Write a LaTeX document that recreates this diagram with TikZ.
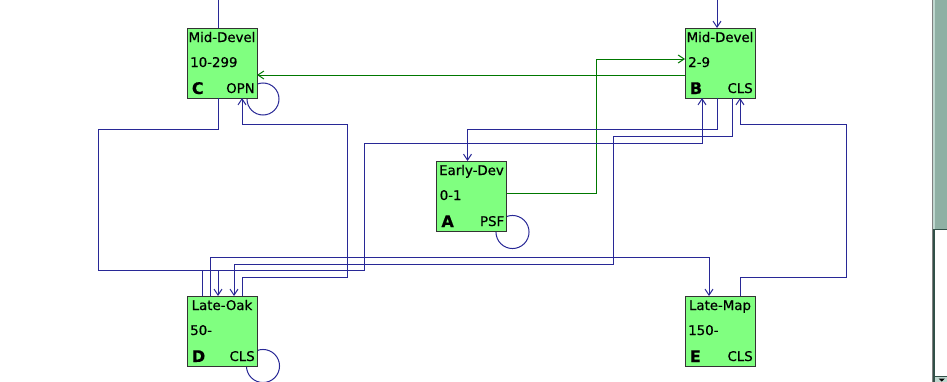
\documentclass[tikz,border=0pt]{standalone}
\usepackage{fontspec}
\setmainfont{DejaVu Sans}[FakeBold=0.6]
\newfontfamily\letterfont{DejaVu Sans}[FakeBold=0.3]
\usetikzlibrary{arrows.meta,positioning,backgrounds}

\definecolor{boxgreen}{RGB}{128,255,128}
\definecolor{linkblue}{RGB}{40,40,150}
\definecolor{flowgreen}{RGB}{0,120,0}
\definecolor{barfill}{RGB}{143,176,164}
\definecolor{barlight}{RGB}{192,216,208}
\definecolor{bardark}{RGB}{50,80,72}

\begin{document}
\begin{tikzpicture}[
    x=0.75pt, y=-0.75pt,
    stage/.style={rectangle, draw=black!80, fill=boxgreen, line width=0.75pt, minimum width=52.5pt, minimum height=52.5pt, inner sep=0pt, outer sep=0pt},
    stagetitle/.style={anchor=base, inner sep=0pt, yshift=-10.5pt, font=\fontsize{10}{12}\selectfont},
    stagerange/.style={anchor=base west, inner sep=0pt, xshift=2.25pt, yshift=-29.25pt, font=\fontsize{10}{12}\selectfont},
    stageletter/.style={anchor=base west, inner sep=0pt, xshift=3.5pt, yshift=3pt, font=\fontsize{12}{12}\selectfont\letterfont\bfseries},
    stagecode/.style={anchor=base east, inner sep=0pt, xshift=-1.5pt, yshift=3.75pt, font=\fontsize{10}{12}\selectfont},
    link/.style={draw=linkblue, line width=0.75pt},
    flow/.style={draw=flowgreen, line width=0.75pt},
    arrow/.style={-{Straight Barb[length=4.5pt,width=6pt]}}
]

\useasboundingbox (0,0) rectangle (947,382);
\begin{scope}[on background layer]
\fill[white] (0,0) rectangle (947,382);
\end{scope}

% stages
\node[stage] (C) at (222,63) {};
\node[stage, right=321pt of C] (B) {};
\node[stage] (A) at (471.5,196) {};
\node[stage, below=148.5pt of C] (D) {};
\node[stage, below=148.5pt of B] (E) {};

\node[stagetitle] (Ct) at (C.north) {Mid-Devel};
\node[stagerange] (Cr) at (C.north west) {10-299};
\node[stageletter] (Cl) at (C.south west) {C};
\node[stagecode] (Cc) at (C.south east) {OPN};

\node[stagetitle] (Bt) at (B.north) {Mid-Devel};
\node[stagerange] (Br) at (B.north west) {2-9};
\node[stageletter] (Bl) at (B.south west) {B};
\node[stagecode] (Bc) at (B.south east) {CLS};

\node[stagetitle] (At) at (A.north) {Early-Dev};
\node[stagerange] (Ar) at (A.north west) {0-1};
\node[stageletter] (Al) at (A.south west) {A};
\node[stagecode] (Ac) at (A.south east) {PSF};

\node[stagetitle] (Dt) at (D.north) {Late-Oak};
\node[stagerange] (Dr) at (D.north west) {50-};
\node[stageletter] (Dl) at (D.south west) {D};
\node[stagecode] (Dc) at (D.south east) {CLS};

\node[stagetitle] (Et) at (E.north) {Late-Map};
\node[stagerange] (Er) at (E.north west) {150-};
\node[stageletter] (El) at (E.south west) {E};
\node[stagecode] (Ec) at (E.south east) {CLS};

% lines from above
\coordinate (inC) at (218,0);
\coordinate (inB) at (717,0);
\draw[link] (inC) -- ([xshift=-3pt]C.north);
\draw[link, arrow] (inB) -- ([xshift=-2.25pt]B.north);

% green links
\draw[flow, arrow] ([yshift=-9pt]B.west) -- ([yshift=-9pt]C.east);
\draw[flow, arrow] ([yshift=2.25pt]A.east) -- ++(89.5,0) |- ([yshift=3pt]B.west);

% blue links
\draw[link, arrow] ([xshift=-3pt]C.south) -- ++(0,31) -- ++(-120,0) -- ++(0,141) -| ([xshift=-3pt]D.north);
\draw[link, arrow] ([xshift=15pt]D.north) -- ++(0,-19) -- ++(105,0) -- ++(0,-153) -| ([xshift=15pt]C.south);
\draw[link, arrow] ([xshift=-15pt]D.north) -- ++(0,-26) -- ++(162,0) -- ++(0,-127) -| ([xshift=-13.5pt]B.south);
\draw[link, arrow] ([xshift=-9pt]D.north) -- ++(0,-39) -| ([xshift=-8.25pt]E.north);
\draw[link, arrow] ([xshift=9pt]B.south) -- ++(0,38) -- ++(-119,0) -- ++(0,128) -| ([xshift=9pt]D.north);
\draw[link, arrow] ([xshift=-2.25pt]B.south) -- ++(0,31) -| ([xshift=-3pt]A.north);
\draw[link, arrow] ([xshift=15pt]E.north) -- ++(0,-19) -- ++(106,0) -- ++(0,-153) -| ([xshift=15pt]B.south);

% self loops
\begin{scope}[on background layer]
\draw[link] ([shift={(4.5pt,-0.75pt)}]C.south east) circle[radius=12pt];
\draw[link] ([shift={(4.5pt,-0.75pt)}]A.south east) circle[radius=12.4pt];
\draw[link] ([shift={(4.5pt,0pt)}]D.south east) circle[radius=12.4pt];
\end{scope}

% scroll bar
\fill[barfill] (935,0) rectangle (947,229);
\fill[barlight] (933,0) rectangle (935,229);
\draw[bardark, line width=0.75pt] (933,229) -- (947,229);
\draw[bardark, line width=1.5pt] (934,229) -- (934,382);
\draw[black!50, line width=0.75pt] (932,0) -- (932,382);
\fill[barlight] (935,376) rectangle (947,382);
\draw[bardark, line width=0.75pt] (935,376) -- (947,376);
\fill[black] (938.5,378.5) -- (945,378.5) -- (941.75,381.5) -- cycle;

\end{tikzpicture}
\end{document}
